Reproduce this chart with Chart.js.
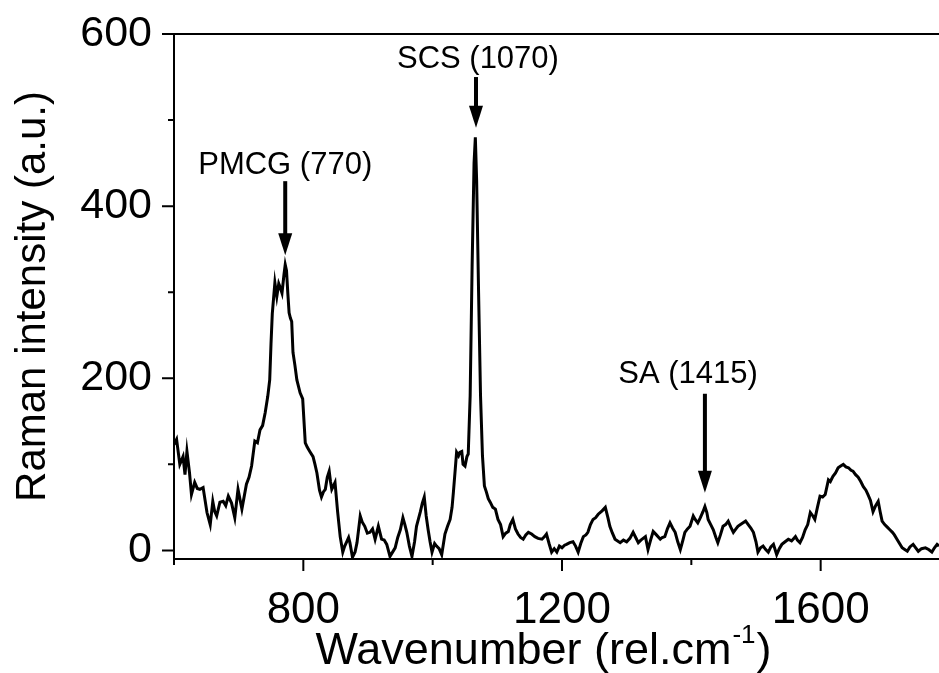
<!DOCTYPE html>
<html>
<head>
<meta charset="utf-8">
<script src="https://cdn.jsdelivr.net/npm/chart.js@4/dist/chart.umd.min.js"></script>
<style>
  html, body { margin: 0; padding: 0; background: #fff; }
  #wrap { width: 939px; height: 673px; }
</style>
</head>
<body>
<div id="wrap"><canvas id="c" width="939" height="673"></canvas></div>
<script>
// Raman spectrum
const wavenumbers = [
  600, 604, 609, 614, 617, 620, 624, 627, 632, 636, 640, 645, 651, 656, 660, 663, 666, 671, 676, 680,
  684, 689, 694, 699, 705, 712, 716, 720, 725, 729, 733, 737, 741, 745, 748, 750, 752, 756, 759, 762,
  764, 767, 770, 772, 774, 776, 778, 780, 782, 784, 787, 790, 795, 799, 803, 806, 810, 815, 818, 821,
  825, 828, 831, 834, 837, 840, 842, 844, 849, 853, 857, 861, 864, 867, 870, 872, 876, 880, 883, 888,
  891, 895, 899, 903, 907, 911, 916, 921, 925, 929, 934, 938, 942, 946, 950, 954, 957, 960, 964, 968,
  972, 975, 981, 984, 987, 990, 993, 996, 999, 1003, 1006, 1010, 1014, 1019, 1023, 1027, 1030, 1032, 1035, 1037,
  1040, 1042, 1045, 1047, 1050, 1053, 1055, 1058, 1061, 1064, 1066, 1068, 1071, 1074, 1077, 1080, 1083, 1086, 1089, 1093,
  1097, 1101, 1105, 1109, 1113, 1117, 1120, 1124, 1128, 1132, 1136, 1140, 1144, 1148, 1153, 1158, 1163, 1169, 1173, 1176,
  1180, 1184, 1188, 1192, 1196, 1200, 1204, 1207, 1212, 1217, 1221, 1225, 1229, 1233, 1237, 1240, 1244, 1248, 1252, 1256,
  1262, 1267, 1271, 1274, 1278, 1282, 1286, 1290, 1295, 1300, 1305, 1310, 1314, 1318, 1322, 1329, 1333, 1337, 1341, 1346,
  1352, 1355, 1359, 1363, 1367, 1371, 1375, 1379, 1383, 1387, 1390, 1394, 1398, 1403, 1406, 1410, 1414, 1418, 1421, 1424,
  1426, 1430, 1434, 1438, 1441, 1445, 1449, 1453, 1457, 1461, 1465, 1469, 1472, 1476, 1480, 1484, 1488, 1492, 1496, 1500,
  1503, 1507, 1511, 1515, 1519, 1523, 1527, 1532, 1536, 1540, 1545, 1550, 1555, 1561, 1564, 1568, 1572, 1576, 1580, 1584,
  1588, 1591, 1595, 1599, 1603, 1607, 1612, 1615, 1619, 1623, 1627, 1631, 1635, 1639, 1643, 1647, 1650, 1654, 1658, 1662,
  1666, 1670, 1673, 1677, 1681, 1685, 1689, 1692, 1695, 1699, 1703, 1707, 1711, 1714, 1718, 1722, 1726, 1730, 1734, 1738,
  1743, 1747, 1751, 1756, 1762, 1767, 1772, 1776, 1780, 1783
];
const intensity = [
  123, 129, 100, 109, 88, 115, 90, 65, 79, 72, 71, 73, 44, 30, 57, 45, 40, 56, 57, 52,
  63, 55, 38, 71, 48, 77, 85, 98, 127, 125, 140, 145, 160, 179, 198, 240, 275, 311, 295, 310,
  306, 299, 320, 332, 325, 299, 276, 270, 266, 230, 215, 198, 183, 176, 125, 120, 115, 109, 100, 90,
  70, 62, 68, 71, 85, 92, 80, 71, 79, 45, 16, -2, 5, 10, 15, 9, -8, -2, 9, 40,
  33, 28, 20, 21, 25, 13, 28, 13, 12, 7, -7, -2, 3, 15, 24, 38, 30, 21, 5, -7,
  10, 28, 45, 55, 62, 40, 24, 10, -2, 8, 5, 2, -5, 19, 28, 36, 50, 67, 95, 114,
  110, 114, 115, 100, 98, 109, 112, 180, 330, 450, 480, 430, 300, 180, 110, 75, 68, 60, 56, 50,
  48, 36, 30, 16, 20, 22, 30, 36, 25, 19, 15, 13, 18, 21, 19, 16, 14, 13, 16, 19,
  8, -2, 2, -2, 5, 3, 6, 7, 9, 10, 5, -2, 8, 16, 18, 21, 30, 36, 38, 42,
  46, 50, 38, 28, 20, 13, 11, 9, 12, 10, 14, 21, 15, 9, 12, 16, 1, 12, 22, 18,
  13, 15, 16, 25, 32, 26, 21, 10, 1, 12, 21, 25, 28, 40, 36, 32, 38, 45, 51, 44,
  36, 30, 24, 15, 9, 18, 28, 30, 34, 27, 21, 25, 28, 30, 32, 34, 30, 26, 21, 10,
  -2, 3, 5, 1, -2, 4, 7, -5, 2, 7, 10, 13, 11, 16, 12, 9, 15, 24, 30, 44,
  40, 36, 50, 63, 62, 65, 82, 80, 86, 90, 96, 98, 100, 97, 96, 93, 92, 88, 85, 80,
  74, 70, 65, 58, 45, 52, 57, 45, 34, 30, 27, 24, 21, 18, 13, 8, 3, 1, -1, 4,
  7, 3, -1, 2, 3, 1, -2, 3, 7, 5
];

// axis ticks (labelled ones are the majors)
const xTicks = [600, 800, 1000, 1200, 1400, 1600];
const xLabelled = [800, 1200, 1600];
const yTicks = [0, 100, 200, 300, 400, 500, 600];
const yLabelled = [0, 200, 400, 600];

// peak annotations: label, arrow x, text baseline, arrow top, arrow tip (data units)
const peakLabels = ['PMCG (770)', 'SCS (1070)', 'SA (1415)'];
const peakArrowX = [772, 1067, 1421];
const peakTextX = [772, 1070, 1395];
const peakTextY = [437, 560, 195];
const peakArrowTop = [429, 550, 182];
const peakArrowTip = [343, 491, 67];

const FONT = "'Liberation Sans', Arial, Helvetica, sans-serif";
const xMin = 600, xMax = 1783, yMin = -10, yMax = 600;

const points = wavenumbers.map((w, i) => ({x: w, y: intensity[i]}));

const frame = {
  id: 'frame',
  afterDraw(chart) {
    const {ctx, chartArea: a, scales: {x, y}} = chart;
    ctx.save();
    ctx.strokeStyle = '#000';
    ctx.lineWidth = 2;
    ctx.beginPath();
    ctx.moveTo(a.left, a.top);
    ctx.lineTo(a.right, a.top);
    x.ticks.forEach(t => {
      const px = x.getPixelForValue(t.value);
      const len = xLabelled.includes(t.value) ? 12 : 6;
      ctx.moveTo(px, a.bottom);
      ctx.lineTo(px, a.bottom + len);
    });
    y.ticks.forEach(t => {
      const py = y.getPixelForValue(t.value);
      const len = yLabelled.includes(t.value) ? 12 : 6;
      ctx.moveTo(a.left, py);
      ctx.lineTo(a.left - len, py);
    });
    ctx.stroke();

    // arrows and labels
    ctx.fillStyle = '#000';
    ctx.font = '31px ' + FONT;
    ctx.textAlign = 'center';
    ctx.textBaseline = 'alphabetic';
    peakLabels.forEach((label, i) => {
      ctx.fillText(label, x.getPixelForValue(peakTextX[i]), y.getPixelForValue(peakTextY[i]));
      const ax = x.getPixelForValue(peakArrowX[i]);
      const top = y.getPixelForValue(peakArrowTop[i]);
      const tip = y.getPixelForValue(peakArrowTip[i]);
      ctx.lineWidth = 4;
      ctx.beginPath();
      ctx.moveTo(ax, top);
      ctx.lineTo(ax, tip - 20);
      ctx.stroke();
      ctx.beginPath();
      ctx.moveTo(ax - 7, tip - 22);
      ctx.lineTo(ax + 7, tip - 22);
      ctx.lineTo(ax, tip);
      ctx.closePath();
      ctx.fill();
    });

    // x axis title with superscript
    const main = 'Wavenumber (rel.cm', sup = '-1', end = ')';
    ctx.textAlign = 'left';
    ctx.font = '45px ' + FONT;
    const w1 = ctx.measureText(main).width, w3 = ctx.measureText(end).width;
    ctx.font = '26px ' + FONT;
    const w2 = ctx.measureText(sup).width;
    const cx = (a.left + a.right) / 2 - 14;
    const tx = cx - (w1 + w2 + w3) / 2;
    const base = 664;
    ctx.font = '45px ' + FONT;
    ctx.fillText(main, tx, base);
    ctx.font = '26px ' + FONT;
    ctx.fillText(sup, tx + w1 + 1, base - 21);
    ctx.font = '45px ' + FONT;
    ctx.fillText(end, tx + w1 + w2 + 2, base);
    ctx.restore();
  }
};

new Chart(document.getElementById('c'), {
  type: 'line',
  data: {
    datasets: [{
      data: points,
      borderColor: '#000',
      borderWidth: 3,
      pointRadius: 0,
      tension: 0,
      fill: false
    }]
  },
  options: {
    responsive: false,
    animation: false,
    devicePixelRatio: 1,
    layout: {padding: {top: 34, right: 0, left: 0, bottom: 0}},
    plugins: {legend: false, tooltip: false},
    scales: {
      x: {
        type: 'linear',
        min: xMin,
        max: xMax,
        afterBuildTicks: s => { s.ticks = xTicks.map(v => ({value: v})); },
        afterFit: s => { s.height = 114; },
        grid: {display: false, drawTicks: false},
        border: {display: true, color: '#000', width: 2},
        ticks: {
          autoSkip: false,
          maxRotation: 0,
          padding: 41,
          color: '#000',
          font: {family: FONT, size: 44, lineHeight: 0.5},
          callback: v => xLabelled.includes(v) ? String(v) : ''
        }
      },
      y: {
        min: yMin,
        max: yMax,
        afterBuildTicks: s => { s.ticks = yTicks.map(v => ({value: v})); },
        afterFit: s => { s.width = 174; },
        grid: {display: false, drawTicks: false},
        border: {display: true, color: '#000', width: 2},
        ticks: {
          autoSkip: false,
          padding: 22,
          color: '#000',
          font: {family: FONT, size: 43, lineHeight: 0.5},
          callback: v => yLabelled.includes(v) ? String(v) : ''
        },
        title: {
          display: true,
          text: 'Raman intensity (a.u.)',
          color: '#000',
          font: {family: FONT, size: 42, weight: 'normal'},
          padding: {top: 8, bottom: 0}
        }
      }
    }
  },
  plugins: [frame]
});
</script>
</body>
</html>
